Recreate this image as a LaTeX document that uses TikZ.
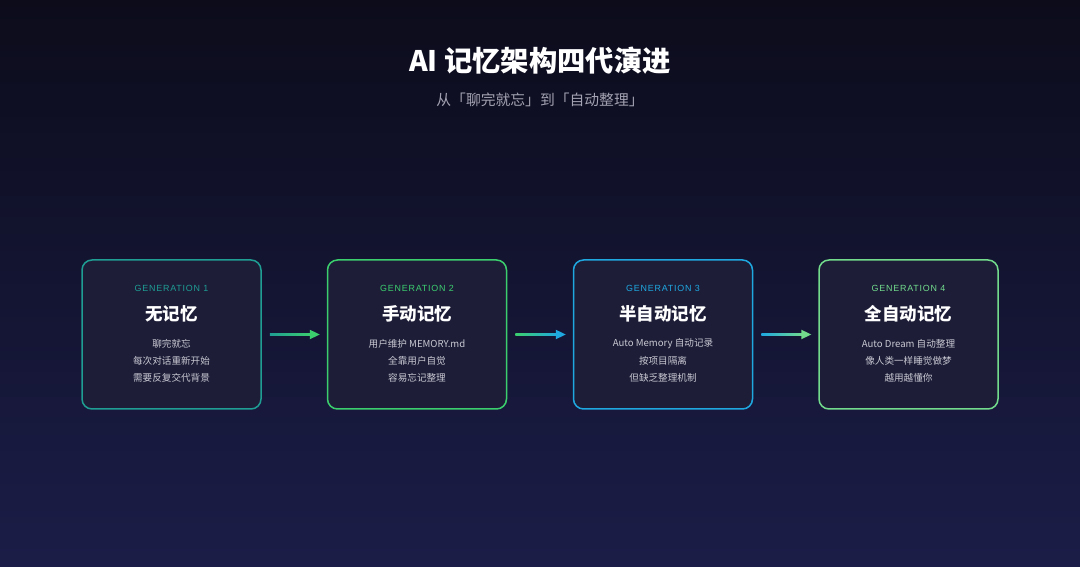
\documentclass[tikz,border=0pt]{standalone}
\usepackage{fontspec}
\setmainfont{Noto Sans CJK SC}
\newfontfamily\latinfont[LetterSpace=9]{Liberation Sans}
\usetikzlibrary{calc}
\definecolor{bgtop}{HTML}{0C0C1B}
\definecolor{bgbot}{HTML}{1B1D48}
\definecolor{boxfill}{HTML}{1D1D38}
\definecolor{cA}{HTML}{1F9E93}
\definecolor{cB}{HTML}{3CCF6E}
\definecolor{cC}{HTML}{1FA8E0}
\definecolor{cD}{HTML}{72DC8C}
\definecolor{desc}{HTML}{C9C9D3}
\definecolor{subt}{HTML}{A3A3B3}
\tikzset{
  genbox/.style={draw=#1, line width=1.5pt, fill=boxfill, rounded corners=10pt,
    minimum width=179pt, minimum height=149pt, inner sep=0pt},
  genlabel/.style={text=#1, font=\latinfont\fontsize{8.9}{10}\selectfont, inner sep=0pt},
  gentitle/.style={text=white, font=\fontsize{17.5}{19}\selectfont\bfseries, inner sep=0pt},
  gendesc/.style={text=desc, font=\fontsize{9.6}{11}\selectfont, inner sep=0pt},
}
\newcommand{\gradarrow}[4]{%
  \shade[left color=#3, right color=#4] ($(#1)+(0,-1.4)$) rectangle ($(#2)+(-8,1.4)$);
  \fill[#4] ($(#2)+(-10,4.8)$) -- (#2) -- ($(#2)+(-10,-4.8)$) -- cycle;
}
\begin{document}
\begin{tikzpicture}[x=1pt,y=1pt]
\shade[top color=bgtop, bottom color=bgbot] (0,0) rectangle (1080,567);
\useasboundingbox (0,0) rectangle (1080,567);

\node[text=white, font=\fontsize{28.3}{31}\selectfont\bfseries, inner sep=0pt] (title) at (540,506) {AI 记忆架构四代演进};
\node[text=subt, font=\fontsize{14.8}{17}\selectfont, inner sep=0pt] (subtitle) at (540,467) {从「聊完就忘」到「自动整理」};

% boxes
\foreach \i/\cx/\col/\gen/\ttl/\la/\lb/\lc in {
  1/171.5/cA/1/无记忆/聊完就忘/每次对话重新开始/需要反复交代背景,
  2/417/cB/2/手动记忆/用户维护 MEMORY.md/全靠用户自觉/容易忘记整理,
  3/663/cC/3/半自动记忆/Auto Memory 自动记录/按项目隔离/但缺乏整理机制,
  4/908.5/cD/4/全自动记忆/Auto Dream 自动整理/像人类一样睡觉做梦/越用越懂你} {
  \node[genbox=\col] (b\i) at (\cx,232.5) {};
  \node[genlabel=\col] (g\i) at ($(b\i.center)+(0,46)$) {GENERATION \gen};
  \node[gentitle] (t\i) at ($(b\i.center)+(0,21)$) {\ttl};
  \node[gendesc] (da\i) at ($(b\i.center)+(0,-9)$) {\la};
  \node[gendesc] (db\i) at ($(b\i.center)+(0,-26)$) {\lb};
  \node[gendesc] (dc\i) at ($(b\i.center)+(0,-43)$) {\lc};
}

% arrows
\coordinate (a1s) at ($(b1.east)+(8,0)$);
\coordinate (a1e) at ($(b2.west)+(-7,0)$);
\coordinate (a2s) at ($(b2.east)+(8,0)$);
\coordinate (a2e) at ($(b3.west)+(-7,0)$);
\coordinate (a3s) at ($(b3.east)+(8,0)$);
\coordinate (a3e) at ($(b4.west)+(-7,0)$);
\gradarrow{a1s}{a1e}{cA}{cB}
\gradarrow{a2s}{a2e}{cB}{cC}
\gradarrow{a3s}{a3e}{cC}{cD}
\end{tikzpicture}
\end{document}
